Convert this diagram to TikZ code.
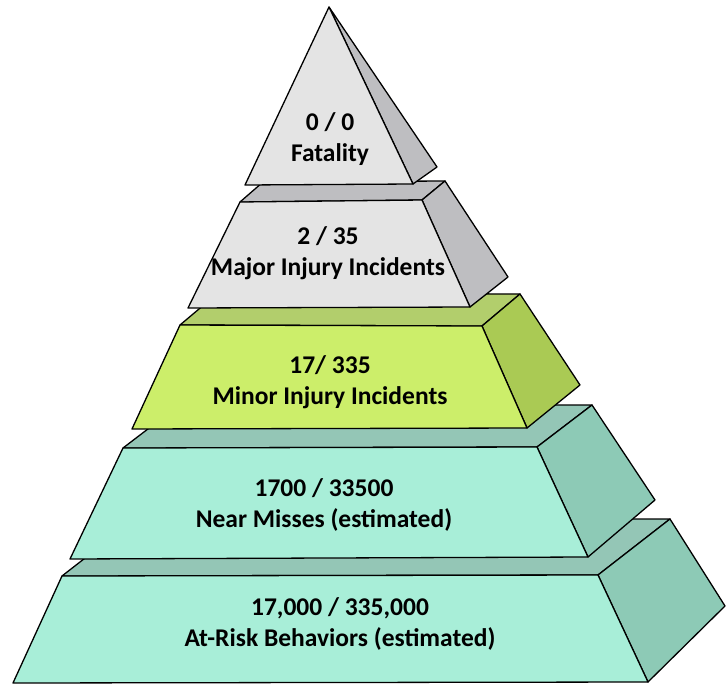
\documentclass[tikz,border=0pt]{standalone}
\usepackage{fontspec}
\setmainfont{Carlito}
\definecolor{greyF}{RGB}{228,228,228}
\definecolor{greyS}{RGB}{190,190,193}
\definecolor{limeF}{RGB}{204,238,106}
\definecolor{limeS}{RGB}{170,202,84}
\definecolor{limeT}{RGB}{178,206,108}
\definecolor{tealF}{RGB}{168,238,216}
\definecolor{tealS}{RGB}{141,202,182}
\definecolor{tealT}{RGB}{148,198,182}
\begin{document}
\begin{tikzpicture}[x=1pt,y=-1pt,
  face/.style={draw=black,line width=1.3pt,line join=round},
  lbl/.style={font=\fontsize{25.5}{31}\selectfont\bfseries,align=center,text=black,inner sep=0pt}]
\useasboundingbox (0,0) rectangle (726,685);
% layer 5
\filldraw[face,fill=tealT] (62,576) -- (598,575) -- (670,519) -- (134,520) -- cycle;
\filldraw[face,fill=tealS] (598,575) -- (670,519) -- (725,606) -- (648,682) -- cycle;
\filldraw[face,fill=tealF] (62,576) -- (598,575) -- (648,682) -- (13,683) -- cycle;
% layer 4
\filldraw[face,fill=tealT] (123,448) -- (537,447) -- (592,405) -- (178,406) -- cycle;
\filldraw[face,fill=tealS] (537,447) -- (592,405) -- (655,500) -- (588,557) -- cycle;
\filldraw[face,fill=tealF] (123,448) -- (537,447) -- (588,557) -- (70,559) -- cycle;
% layer 3
\filldraw[face,fill=limeT] (180,325) -- (482,326) -- (520,294) -- (218,293) -- cycle;
\filldraw[face,fill=limeS] (482,326) -- (520,294) -- (580,385) -- (527,428) -- cycle;
\filldraw[face,fill=limeF] (180,325) -- (482,326) -- (527,428) -- (132,429) -- cycle;
% layer 2
\filldraw[face,fill=greyS] (240,202) -- (422,200) -- (445,181) -- (263,182) -- cycle;
\filldraw[face,fill=greyS] (422,200) -- (445,181) -- (508,277) -- (470,307) -- cycle;
\filldraw[face,fill=greyF] (240,202) -- (422,200) -- (470,307) -- (188,308) -- cycle;
% layer 1
\filldraw[face,fill=greyS] (329,7) -- (437,167) -- (413,184) -- cycle;
\filldraw[face,fill=greyF] (329,7) -- (413,184) -- (245,185) -- cycle;
% labels
\node[lbl] (l1) at (330,139) {0 / 0\\Fatality};
\node[lbl] (l2) at (328,253) {2 / 35\\Major Injury Incidents};
\node[lbl] (l3) at (330,382) {17/ 335\\Minor Injury Incidents};
\node[lbl] (l4) at (324,505) {1700 / 33500\\Near Misses (estimated)};
\node[lbl] (l5) at (340,624) {17,000 / 335,000\\At-Risk Behaviors (estimated)};
\end{tikzpicture}
\end{document}
